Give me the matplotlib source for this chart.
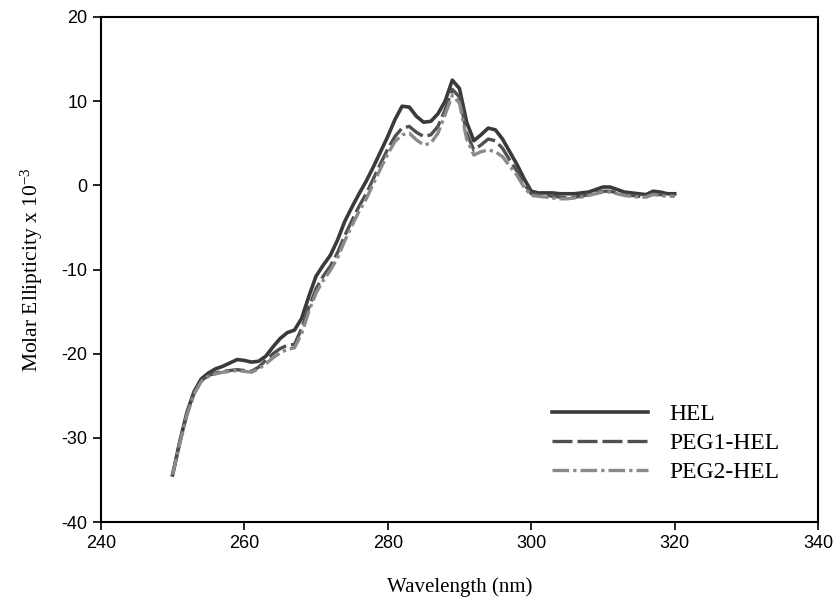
import numpy as np
import matplotlib.pyplot as plt

# wavelength (nm)
wl = np.arange(250, 321)

hel = [-34.4, -30.5, -27.0, -24.5, -23.0, -22.3, -21.8, -21.5, -21.1, -20.7,
       -20.8, -21.0, -20.9, -20.3, -19.2, -18.2, -17.5, -17.2, -15.8, -13.2,
       -10.8, -9.5, -8.3, -6.5, -4.3, -2.6, -1.0, 0.5, 2.2, 4.0,
       5.8, 7.8, 9.4, 9.3, 8.2, 7.5, 7.6, 8.5, 10.0, 12.5,
       11.5, 7.5, 5.3, 6.0, 6.8, 6.6, 5.5, 4.0, 2.5, 0.8,
       -0.7, -0.9, -0.9, -0.9, -1.0, -1.0, -1.0, -0.9, -0.8, -0.5,
       -0.2, -0.2, -0.5, -0.8, -0.9, -1.0, -1.1, -0.7, -0.8, -1.0,
       -1.0]

peg1 = [-34.4, -30.6, -27.2, -24.7, -23.2, -22.6, -22.3, -22.1, -22.0, -21.9,
        -22.0, -22.1, -21.6, -20.8, -20.0, -19.4, -19.0, -18.9, -17.0, -14.5,
        -12.3, -10.8, -9.6, -8.0, -6.0, -4.2, -2.5, -1.0, 0.8, 2.6,
        4.3, 5.8, 6.8, 7.0, 6.3, 5.8, 6.0, 7.0, 9.0, 11.4,
        10.5, 6.2, 4.2, 4.8, 5.5, 5.3, 4.4, 3.0, 1.7, 0.2,
        -1.0, -1.1, -1.2, -1.3, -1.4, -1.5, -1.4, -1.3, -1.1, -0.9,
        -0.7, -0.7, -0.9, -1.1, -1.2, -1.3, -1.3, -1.0, -1.1, -1.2,
        -1.2]

peg2 = [-34.4, -30.7, -27.3, -24.8, -23.3, -22.7, -22.4, -22.2, -22.1, -22.0,
        -22.1, -22.2, -21.8, -21.2, -20.5, -19.9, -19.5, -19.3, -17.6, -15.0,
        -12.8, -11.3, -10.1, -8.6, -6.6, -4.8, -3.1, -1.6, 0.2, 2.0,
        3.7, 5.2, 6.0, 6.2, 5.4, 4.8, 5.0, 6.2, 8.4, 10.7,
        9.8, 5.5, 3.6, 4.0, 4.2, 4.0, 3.4, 2.3, 1.2, -0.2,
        -1.2, -1.3, -1.4, -1.5, -1.6, -1.6, -1.5, -1.4, -1.2, -1.0,
        -0.8, -0.8, -1.0, -1.2, -1.3, -1.4, -1.4, -1.1, -1.2, -1.3,
        -1.3]

labels = ['HEL', 'PEG1-HEL', 'PEG2-HEL']

serif = 'Liberation Serif'
sans = 'Liberation Sans'
plt.rcParams['mathtext.default'] = 'regular'
plt.rcParams['axes.unicode_minus'] = False

fig = plt.figure(figsize=(8.4, 6.07), dpi=100)
ax = fig.add_axes([0.120, 0.140, 0.854, 0.832])

ax.plot(wl, hel, color='#3a3a3a', lw=2.6, label=labels[0])
ax.plot(wl, peg1, color='#505050', lw=2.4, ls=(0, (6, 1.5)), label=labels[1])
ax.plot(wl, peg2, color='#8a8a8a', lw=2.4, ls=(0, (5, 1.2, 1, 1.2)), label=labels[2])

ax.set_xlim(240, 340)
ax.set_ylim(-40, 20)
ax.set_xticks(np.arange(240, 341, 20))
ax.set_yticks(np.arange(-40, 21, 10))
ax.tick_params(direction='out', length=6, width=1.2, labelsize=13)
for lab in ax.get_xticklabels() + ax.get_yticklabels():
    lab.set_fontfamily(sans)
for s in ax.spines.values():
    s.set_linewidth(1.5)

ax.set_xlabel('Wavelength (nm)', fontsize=15, fontfamily=serif, labelpad=18)
ax.set_ylabel('Molar Ellipticity x 10$^{-3}$', fontsize=15.5, fontfamily=serif, labelpad=12)

ax.legend(loc='lower right', bbox_to_anchor=(0.976, 0.035), frameon=False,
          handlelength=4.1, handletextpad=0.9, labelspacing=0.32,
          prop={'family': serif, 'size': 17})

fig.savefig('out.png', dpi=100)
